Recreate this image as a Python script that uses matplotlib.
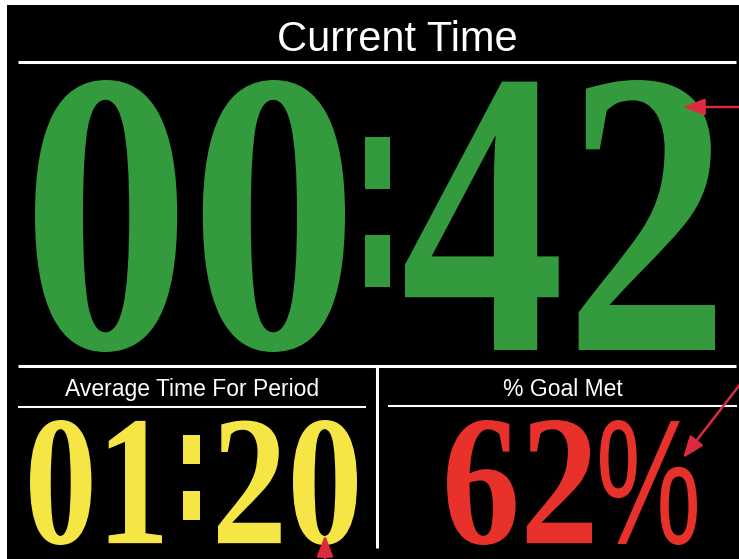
import matplotlib
matplotlib.use("Agg")
import matplotlib.pyplot as plt
from matplotlib.patheffects import AbstractPathEffect
from matplotlib.transforms import Affine2D
from matplotlib.font_manager import FontProperties

# ---- data ----
panel_titles = ["Current Time", "Average Time For Period", "% Goal Met"]
current_time = "00:42"
average_time = "01:20"
goal_met_pct = 62
pct_sign = "%"

W, H, DPI = 739, 559, 100
GREEN = "#339B3D"
YELLOW = "#F5E645"
RED = "#E8312B"
ARROW = "#DD2A40"


class FitInk(AbstractPathEffect):
    """Draw the text glyphs so that their ink fills a given box (data coords),
    giving the tall, condensed display-digit look."""
    def __init__(self, axes, box):
        super().__init__()
        self.axes = axes
        self.box = box  # (left, top, right, bottom)

    def draw_path(self, renderer, gc, tpath, affine, rgbFace=None):
        l, t, r, b = self.box
        p = self.axes.transData.transform([[l, t], [r, b]])
        dl, dr = p[:, 0].min(), p[:, 0].max()
        dbot, dtop = p[:, 1].min(), p[:, 1].max()
        e = tpath.get_extents()
        tr = (Affine2D().translate(-e.x0, -e.y0)
              .scale((dr - dl) / e.width, (dtop - dbot) / e.height)
              .translate(dl, dbot))
        renderer.draw_path(gc, tpath, tr, rgbFace)


fig = plt.figure(figsize=(W / DPI, H / DPI), dpi=DPI, facecolor="white")
ax = fig.add_axes([7 / W, 0, (W - 7) / W, (H - 5) / H])
ax.set_facecolor("black")
ax.set_xlim(7, W)
ax.set_ylim(H, 5)
ax.set_xticks([])
ax.set_yticks([])
for s in ax.spines.values():
    s.set_visible(False)


def big_text(s, left, right, top, bottom, color, family="Liberation Serif", weight="bold"):
    """Text s whose ink fills the box (left, top, right, bottom)."""
    fp = FontProperties(family=family, weight=weight)
    size_pt = (bottom - top) / 1.25 * 72.0 / DPI
    t = ax.text((left + right) / 2, (top + bottom) / 2, s, fontproperties=fp,
                color=color, ha="center", va="center")
    t.set_fontsize(size_pt)
    t.set_path_effects([FitInk(ax, (left, top, right, bottom))])
    return t


# ---- separators ----
ax.plot([18, 736], [62, 62], color="white", lw=2.2, solid_capstyle="butt")
ax.plot([18, 736], [366, 366], color="white", lw=2.2, solid_capstyle="butt")
ax.plot([377, 377], [366, 548], color="white", lw=2.2, solid_capstyle="butt")
ax.plot([18, 366], [407, 407], color="white", lw=1.5, solid_capstyle="butt")
ax.plot([388, 737], [406, 406], color="white", lw=1.5, solid_capstyle="butt")

# ---- titles ----
ax.text(397, 40, panel_titles[0], family="Liberation Sans", fontsize=30,
        color="white", ha="center", va="center")
ax.text(192, 390, panel_titles[1], family="Liberation Sans", fontsize=16.5,
        color="white", ha="center", va="center")
ax.text(563, 390, panel_titles[2], family="Liberation Sans", fontsize=16.5,
        color="white", ha="center", va="center")

# ---- values ----
cur_mm, cur_ss = current_time.split(":")
big_text(cur_mm, 35, 345, 80, 352, GREEN)
big_text(":", 365, 390, 137, 287, GREEN, family="DejaVu Sans", weight="bold")
big_text(cur_ss, 405, 715, 80, 350, GREEN)

avg_mm, avg_ss = average_time.split(":")
big_text(avg_mm, 30, 162, 420, 545, YELLOW)
big_text(":", 183, 200, 435, 520, YELLOW, family="DejaVu Sans", weight="bold")
big_text(avg_ss, 218, 357, 420, 545, YELLOW)

big_text(str(goal_met_pct), 447, 592, 420, 545, RED)
big_text(pct_sign, 600, 697, 420, 545, RED, family="Liberation Sans", weight="normal")

# ---- annotation arrows ----
aprops = dict(arrowstyle="-|>,head_length=0.65,head_width=0.25", color=ARROW,
              lw=1.8, shrinkA=0, shrinkB=0, mutation_scale=20)
ax.annotate("", xy=(683, 107), xytext=(760, 107), arrowprops=aprops,
            annotation_clip=False)
ax.annotate("", xy=(683, 458), xytext=(745, 378), arrowprops=aprops,
            annotation_clip=False)
ax.annotate("", xy=(325, 535), xytext=(325, 575), arrowprops=aprops,
            annotation_clip=False)

fig.savefig("out.png", dpi=DPI, facecolor="white")
